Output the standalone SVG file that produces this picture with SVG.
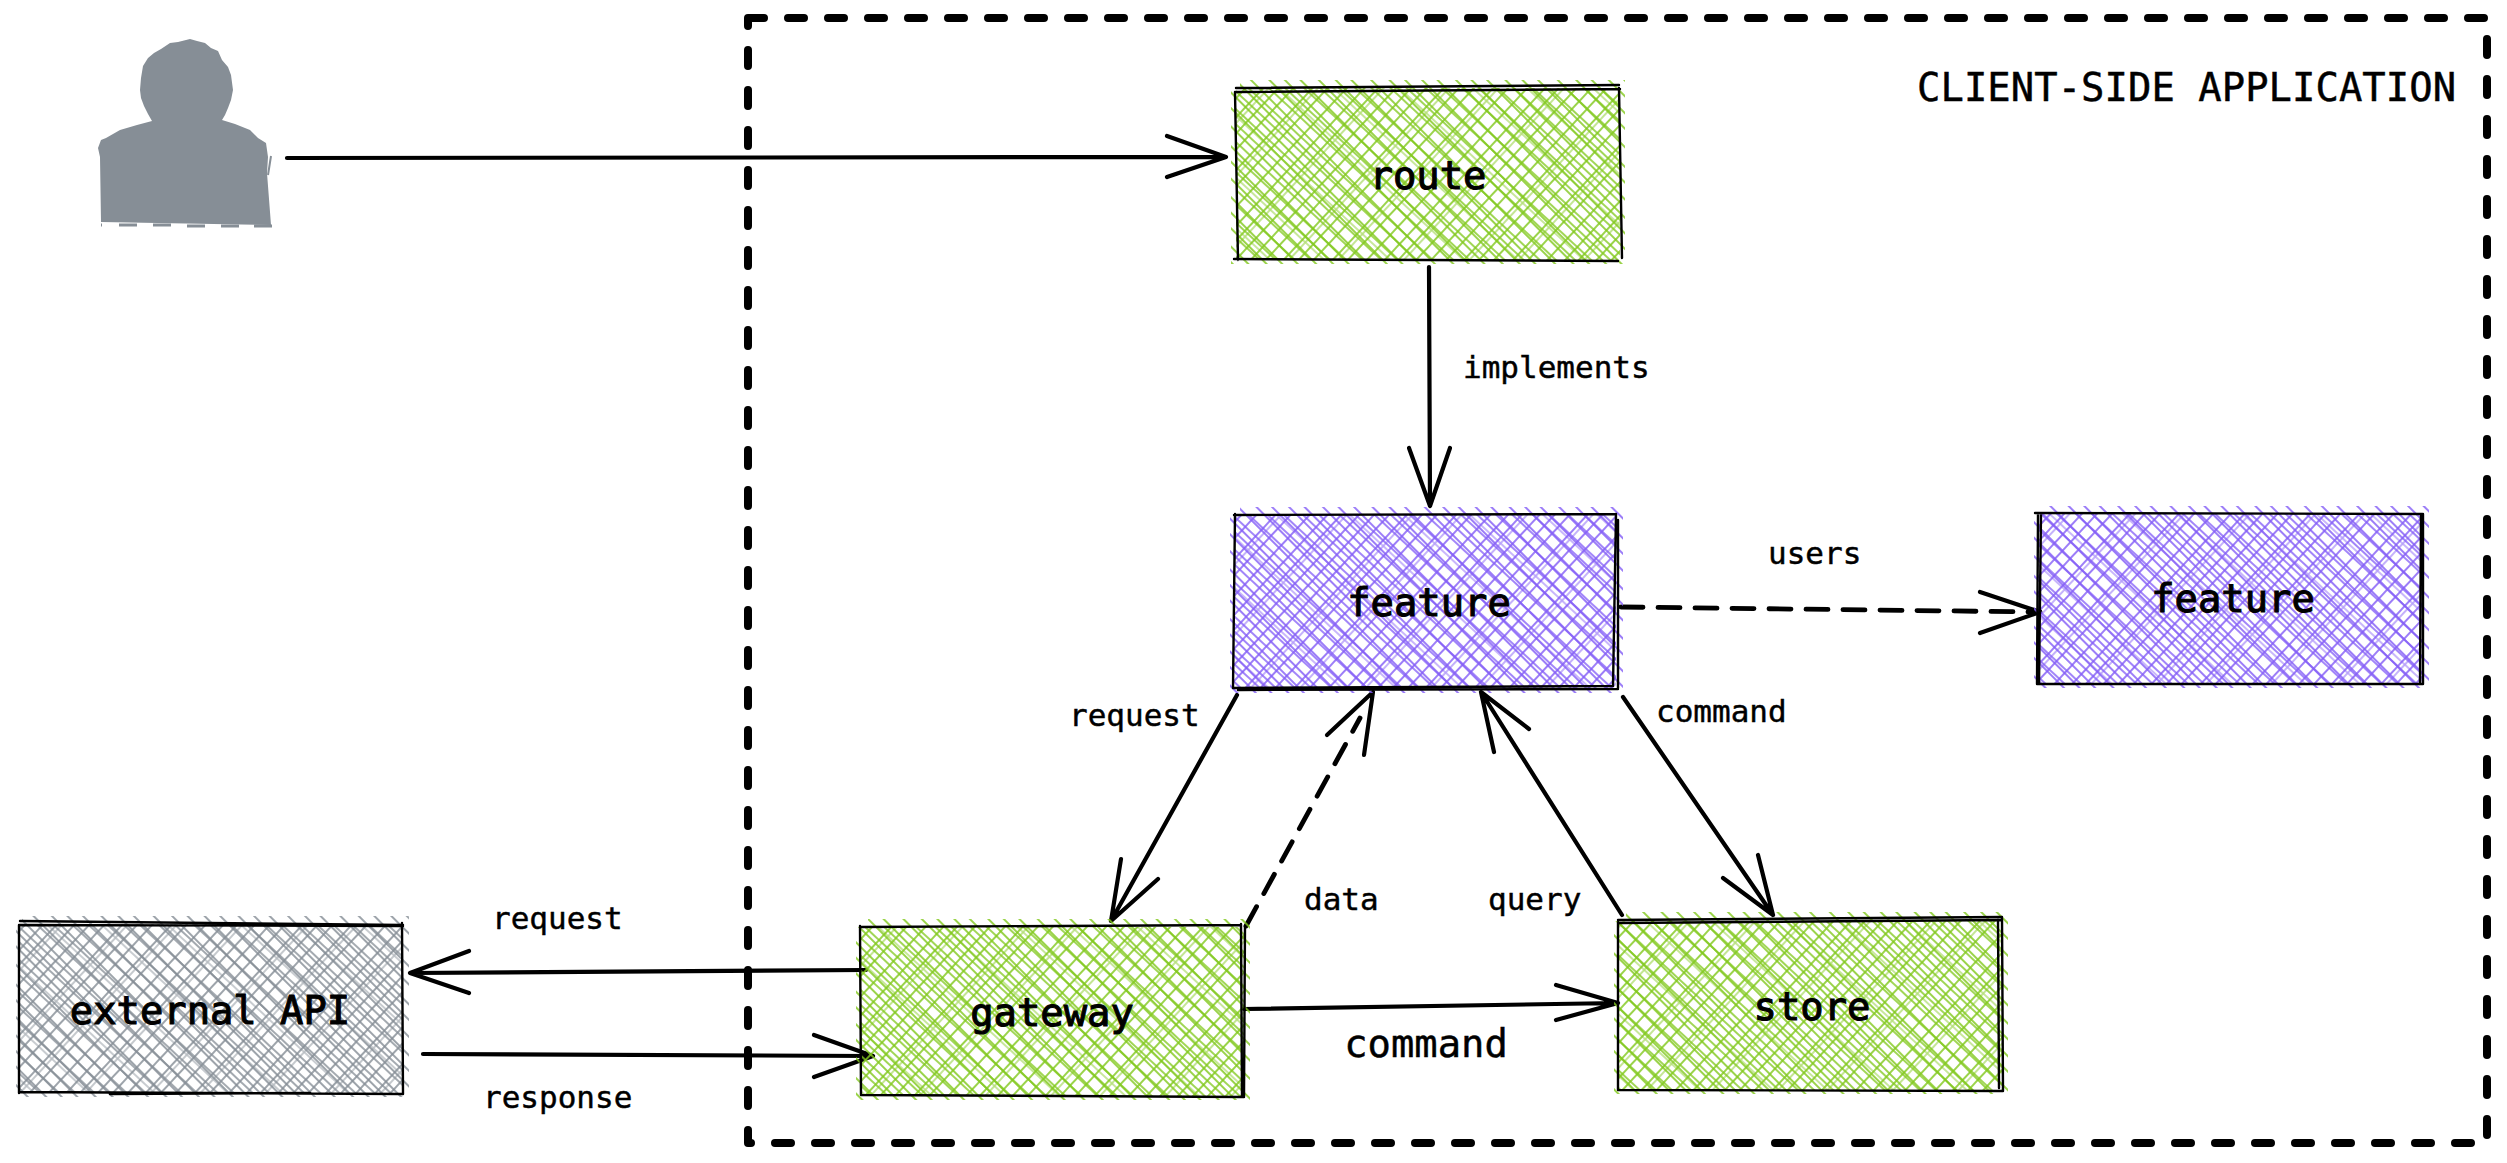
<svg xmlns="http://www.w3.org/2000/svg" xmlns:xlink="http://www.w3.org/1999/xlink" width="2507" height="1163" viewBox="0 0 2507 1163">
<style>
.t{font-family:"DejaVu Sans Mono","Liberation Mono",monospace;fill:#000}
.b{font-size:38.8px;text-anchor:middle;stroke:#000;stroke-width:1.1}
.m{font-size:38.8px;stroke:#000;stroke-width:.5}
.s{font-size:31px;stroke:#000;stroke-width:.45}
.o{fill:none;stroke:#000;stroke-width:2.4;stroke-linecap:round;stroke-linejoin:round}
.c{fill:none;stroke:#000;stroke-width:4.2;stroke-linecap:round;stroke-linejoin:round}
.d{stroke-dasharray:22 15;stroke-width:4.8}
.h{stroke-width:1.6;fill:none}
</style>
<defs>
<g id="hatch">
<path d="M2 0V132M12 0V132M25 0V132M36 0V132M47 0V132M60 0V132M71 0V132M82 0V132M96 0V132M107 0V132M121 0V132"/>
<path d="M0 5H132M0 16H132M0 29H132M0 40H132M0 53H132M0 64H132M0 75H132M0 88H132M0 99H132M0 112H132M0 123H132"/>
<path opacity=".6" d="M16 0V132M64 0V132M100 0V132M0 34H132M0 79H132M0 116H132"/>
</g>
<g id="ticks">
<path d="M2 0V132M13 0V132M25 0V132M36 0V132M49 0V132M60 0V132M71 0V132M84 0V132M96 0V132M107 0V132M121 0V132"/>
</g>
<pattern id="pg" width="132" height="132" patternUnits="userSpaceOnUse" patternTransform="rotate(43)"><use xlink:href="#hatch" href="#hatch" class="h" stroke="#82c91e"/></pattern>
<pattern id="pv" width="132" height="132" patternUnits="userSpaceOnUse" patternTransform="rotate(43)"><use xlink:href="#hatch" href="#hatch" class="h" stroke="#845ef7"/></pattern>
<pattern id="pa" width="132" height="132" patternUnits="userSpaceOnUse" patternTransform="rotate(43)"><use xlink:href="#hatch" href="#hatch" class="h" stroke="#868e96"/></pattern>
<pattern id="tg" width="132" height="132" patternUnits="userSpaceOnUse" patternTransform="rotate(-45)"><use xlink:href="#ticks" href="#ticks" class="h" stroke="#82c91e"/></pattern>
<pattern id="tv" width="132" height="132" patternUnits="userSpaceOnUse" patternTransform="rotate(-45)"><use xlink:href="#ticks" href="#ticks" class="h" stroke="#845ef7"/></pattern>
<pattern id="ta" width="132" height="132" patternUnits="userSpaceOnUse" patternTransform="rotate(-45)"><use xlink:href="#ticks" href="#ticks" class="h" stroke="#868e96"/></pattern>
</defs>
<rect width="2507" height="1163" fill="#fff"/>

<g id="boundary">
<path d="M748 18H2487V1143H748Z" fill="none" stroke="#000" stroke-width="8" stroke-linecap="round" stroke-linejoin="round" stroke-dasharray="16 24"/>
<text class="t m" x="1917" y="101" textLength="539">CLIENT-SIDE APPLICATION</text>
</g>

<g id="user" fill="#868e96">
<path d="M190 39L197 41 205 43 211 48 218 51 222 60 228 67 231 75 233 90 231 100 228 108 225 115 222 120 235 124 240 126 250 130 258 138 266 143 268 157 267 173 271 225 101 222 100 157 98 148 101 140 106 138 120 130 137 125 152 121 148 114 144 106 141 98 140 90 141 78 143 66 148 58 154 53 161 49 170 43 178 42Z"/>
<path d="M271 156L268 175" fill="none" stroke="#868e96" stroke-width="2"/>
<path d="M101 225H102M119 225H137M153 225H171M187 226H205M221 226H239M254 226H272" fill="none" stroke="#868e96" stroke-width="3"/>
</g>

<g id="connectors">
<path class="c" d="M287 158L1226 157M1167 136L1226 157 1167 177"/>
<path class="c" d="M1429 267L1430 506M1409 448L1430 506 1450 448"/>
<path class="c d" d="M1621 607L2040 612"/>
<path class="c" d="M1980 592L2040 612 1980 633"/>
<path class="c" d="M1237 695L1111 921M1121 859L1111 921 1158 879"/>
<path class="c d" d="M1246 926L1360 718"/>
<path class="c" d="M1327 735L1373 692 1364 755"/>
<path class="c" d="M1622 915L1481 692M1494 752L1481 692 1529 729"/>
<path class="c" d="M1623 697L1773 915M1758 855L1773 915 1723 878"/>
<path class="c" d="M866 970L410 973M469 951L410 973 469 993"/>
<path class="c" d="M423 1054L873 1056M814 1035L873 1056 814 1077"/>
<path class="c" d="M1244 1009L1618 1003M1556 985L1618 1003 1556 1020"/>
</g>

<g id="route">
<path d="M1240 80H1625V264H1231V88H1240Z" fill="url(#tg)"/>
<rect x="1236" y="88" width="384" height="172" fill="url(#pg)"/>
<path class="o" d="M1236 88L1619 85M1236 92L1620 89M1235 92L1238 260M1619 88L1622 258M1234 259L1618 261"/>
<text class="t b" x="1428" y="189">route</text>
</g>
<g id="feature-main">
<path d="M1240 507H1623V693H1230V515H1240Z" fill="url(#tv)"/>
<rect x="1234" y="515" width="382" height="173" fill="url(#pv)"/>
<path class="o" d="M1234 515L1616 514M1235 514L1233 688M1616 514L1613 686M1618 520L1618 688M1233 688L1613 686M1238 690L1618 689"/>
<text class="t b" x="1429" y="616">feature</text>
</g>
<g id="feature-secondary">
<path d="M2045 506H2429V688H2034V514H2045Z" fill="url(#tv)"/>
<rect x="2038" y="514" width="384" height="170" fill="url(#pv)"/>
<path class="o" d="M2035 513L2422 514M2038 514L2037 684M2041 514L2039 684M2421 514L2420 683M2423 514L2423 684M2037 684L2423 684"/>
<text class="t b" x="2233" y="612">feature</text>
</g>
<g id="external-api">
<path d="M22 916H409V1097H16V924H22Z" fill="url(#ta)"/>
<rect x="19" y="924" width="384" height="169" fill="url(#pa)"/>
<path class="o" d="M20 921L403 925M20 925L403 926M19 925L19 1093M402 923L403 1094M19 1092L403 1094M110 1094L310 1093"/>
<text class="t b" x="210" y="1024">external API</text>
</g>
<g id="gateway">
<path d="M868 919H1250V1100H856V927H868Z" fill="url(#tg)"/>
<rect x="860" y="927" width="384" height="169" fill="url(#pg)"/>
<path class="o" d="M860 927L1240 925M860 926L861 1095M1241 924L1242 1097M1245 926L1244 1097M861 1095L1244 1097"/>
<text class="t b" x="1052" y="1026">gateway</text>
</g>
<g id="store">
<path d="M1626 912H2008V1094H1614V921H1626Z" fill="url(#tg)"/>
<rect x="1618" y="921" width="384" height="169" fill="url(#pg)"/>
<path class="o" d="M1618 920L2002 917M1620 923L2002 920M1618 922L1618 1090M1998 920L1999 1088M2002 918L2003 1091M1618 1090L2003 1091"/>
<text class="t b" x="1812" y="1020">store</text>
</g>

<g id="labels">
<text class="t s" x="1463" y="378">implements</text>
<text class="t s" x="1768" y="564">users</text>
<text class="t s" x="1069" y="726">request</text>
<text class="t s" x="1656" y="722">command</text>
<text class="t s" x="1304" y="910">data</text>
<text class="t s" x="1488" y="910">query</text>
<text class="t s" x="492" y="929">request</text>
<text class="t s" x="483" y="1108">response</text>
<text class="t m" x="1426" y="1057" text-anchor="middle">command</text>
</g>
</svg>
